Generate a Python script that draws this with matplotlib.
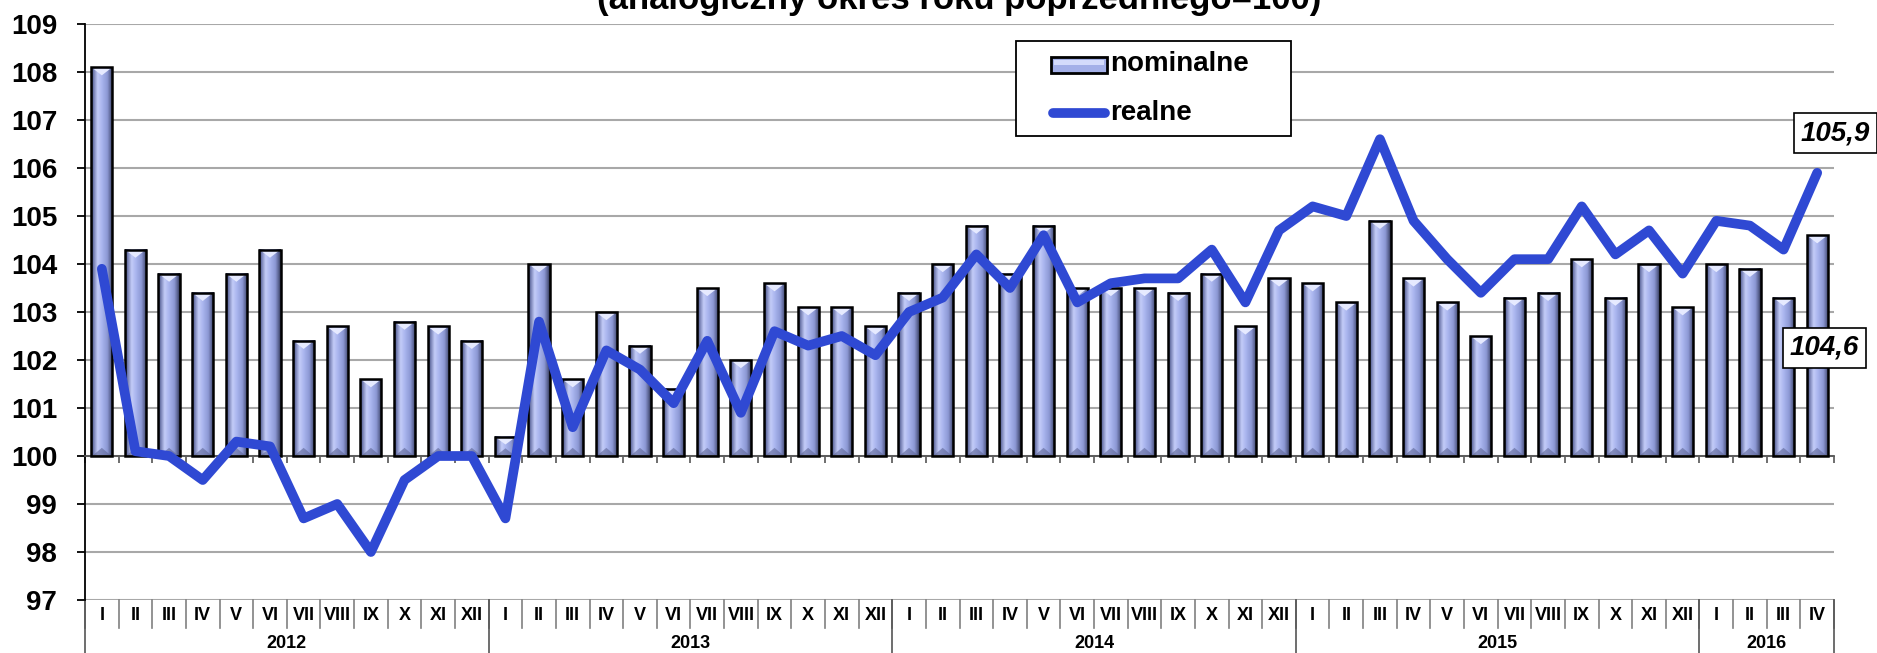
import numpy as np
import matplotlib
matplotlib.use("Agg")
import matplotlib.pyplot as plt
import matplotlib.transforms as mtransforms
from matplotlib.patches import Rectangle, Polygon
from matplotlib.lines import Line2D
from matplotlib.colors import to_rgb

plt.rcParams['font.family'] = ['Liberation Sans', 'DejaVu Sans']
plt.rcParams['font.weight'] = 'bold'

# data
title = "(analogiczny okres roku poprzedniego=100)"
roman = ["I", "II", "III", "IV", "V", "VI", "VII", "VIII", "IX", "X", "XI", "XII"]
years = ["2012", "2013", "2014", "2015", "2016"]
months_per_year = [12, 12, 12, 12, 4]
nominalne = [108.1, 104.3, 103.8, 103.4, 103.8, 104.3, 102.4, 102.7, 101.6, 102.8, 102.7, 102.4,
             100.4, 104.0, 101.6, 103.0, 102.3, 101.4, 103.5, 102.0, 103.6, 103.1, 103.1, 102.7,
             103.4, 104.0, 104.8, 103.8, 104.8, 103.5, 103.5, 103.5, 103.4, 103.8, 102.7, 103.7,
             103.6, 103.2, 104.9, 103.7, 103.2, 102.5, 103.3, 103.4, 104.1, 103.3, 104.0, 103.1,
             104.0, 103.9, 103.3, 104.6]
realne = [103.9, 100.1, 100.0, 99.5, 100.3, 100.2, 98.7, 99.0, 98.0, 99.5, 100.0, 100.0,
          98.7, 102.8, 100.6, 102.2, 101.8, 101.1, 102.4, 100.9, 102.6, 102.3, 102.5, 102.1,
          103.0, 103.3, 104.2, 103.5, 104.6, 103.2, 103.6, 103.7, 103.7, 104.3, 103.2, 104.7,
          105.2, 105.0, 106.6, 104.9, 104.1, 103.4, 104.1, 104.1, 105.2, 104.2, 104.7, 103.8,
          104.9, 104.8, 104.3, 105.9]
legend_labels = ["nominalne", "realne"]

month_labels = [m for k in months_per_year for m in roman[:k]]
n = len(nominalne)
x = np.arange(n)

W, H = 1877, 653
fig = plt.figure(figsize=(W / 100, H / 100), dpi=100)
ax = fig.add_axes([85 / W, 53 / H, 1749 / W, 576 / H])

line_color = '#2f49d3'
base = 100
bar_w = 0.63

# horizontal shading of the bars
pos = [0.0, 0.1, 0.3, 0.5, 0.75, 0.9, 1.0]
cols = [to_rgb(c) for c in ['#2c3150', '#6a74a8', '#c4ccf8', '#a9b5ee', '#8c98d4', '#5a6290', '#2c3150']]
t = np.linspace(0, 1, 64)
grad = np.zeros((1, 64, 3))
for c in range(3):
    grad[0, :, c] = np.interp(t, pos, [col[c] for col in cols])

for xi, v in zip(x, nominalne):
    x0, x1 = xi - bar_w / 2, xi + bar_w / 2
    ax.imshow(grad, extent=(x0, x1, base, v), aspect='auto', interpolation='bilinear', zorder=2)
    th = min(0.17, (v - base) * 0.4)
    ax.add_patch(Polygon([(x0 + 0.06, v - 0.03), (x1 - 0.06, v - 0.03), (xi, v - th)],
                         closed=True, fc='#e6eaff', ec='none', zorder=2.5))
    ax.add_patch(Polygon([(x0 + 0.06, base + 0.02), (x1 - 0.06, base + 0.02), (xi, base + th)],
                         closed=True, fc='#5c6494', ec='none', alpha=0.6, zorder=2.5))
    ax.add_patch(Rectangle((x0, base), bar_w, v - base, fill=False, ec='black', lw=1.8, zorder=3))

ax.plot(x, realne, color=line_color, lw=7, solid_capstyle='round', solid_joinstyle='round', zorder=5)

ax.set_xlim(-0.5, n - 0.5)
ax.set_ylim(97, 109)
ax.set_yticks(range(97, 110))
ax.yaxis.grid(True, color='#a8a8a8', lw=1.5)
ax.set_axisbelow(True)
ax.spines['top'].set_visible(False)
ax.spines['right'].set_visible(False)
ax.spines['left'].set_linewidth(1.3)
ax.spines['bottom'].set_position(('data', base))
ax.spines['bottom'].set_color('#555555')
ax.spines['bottom'].set_linewidth(1.3)
ax.set_xticks(np.arange(-0.5, n, 1.0))
ax.set_xticklabels([])
ax.tick_params(axis='x', direction='out', length=5, width=1.2, color='#555555')
ax.tick_params(axis='y', direction='out', length=6, width=1.3, pad=14, labelsize=20)

# category table below the plot
trans = mtransforms.blended_transform_factory(ax.transData, fig.transFigure)
y_top = 53 / H
y_mid = 1 - 628 / H
for b in np.arange(-0.5, n, 1.0):
    ax.plot([b, b], [y_top, y_mid], transform=trans, color='#808080', lw=1.2, clip_on=False)
for i, m in enumerate(month_labels):
    ax.text(i, 1 - 616 / H, m, transform=trans, ha='center', va='center', fontsize=13)
edges = np.concatenate([[0], np.cumsum(months_per_year)]) - 0.5
for e in edges:
    ax.plot([e, e], [y_top, 0], transform=trans, color='#555555', lw=1.2, clip_on=False)
for y, a, b in zip(years, edges[:-1], edges[1:]):
    ax.text((a + b) / 2, 1 - 643 / H, y, transform=trans, ha='center', va='center', fontsize=13)

# legend
ft = fig.transFigure
ax.add_artist(Rectangle((1016 / W, 1 - 136 / H), 275 / W, 95 / H, transform=ft,
                        fc='white', ec='black', lw=1.3, zorder=6))
ax.add_artist(Rectangle((1051 / W, 1 - 73 / H), 56 / W, 16 / H, transform=ft,
                        fc='#a4b0e8', ec='black', lw=2, zorder=7))
ax.add_artist(Rectangle((1054 / W, 1 - 65 / H), 50 / W, 5 / H, transform=ft,
                        fc='#d4dbfb', ec='none', zorder=7))
ax.add_artist(Line2D([1053 / W, 1105 / W], [1 - 113 / H] * 2, transform=ft, color=line_color,
                     lw=7, solid_capstyle='round', zorder=7))
ax.text(1110 / W, 1 - 64 / H, legend_labels[0], transform=ft, va='center', fontsize=20, zorder=7)
ax.text(1110 / W, 1 - 113 / H, legend_labels[1], transform=ft, va='center', fontsize=20, zorder=7)

# value labels for the last month
box = dict(boxstyle='square,pad=0.25', fc='white', ec='black', lw=1.2)
ax.annotate(f"{realne[-1]:.1f}".replace('.', ','), xy=(x[-1], realne[-1]), xytext=(13, 28.5),
            textcoords='offset points', ha='center', va='center', fontsize=20, style='italic',
            bbox=box, annotation_clip=False, zorder=8)
ax.annotate(f"{nominalne[-1]:.1f}".replace('.', ','), xy=(x[-1], nominalne[-1]), xytext=(5, -81),
            textcoords='offset points', ha='center', va='center', fontsize=20, style='italic',
            bbox=box, annotation_clip=False, zorder=8)

fig.text(959 / W, 1 - 9 / H, title, ha='center', va='baseline', fontsize=25)

fig.savefig('out.png', dpi=100)
